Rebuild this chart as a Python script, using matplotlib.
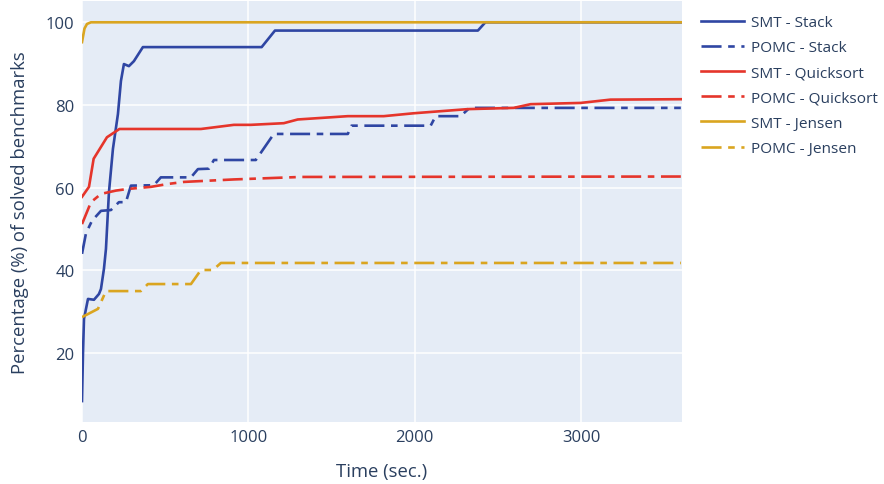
import matplotlib
matplotlib.use("Agg")
import matplotlib.pyplot as plt

# time (sec.) / percentage of solved benchmarks
smt_stack_t = [0, 6, 12, 36, 72, 102, 114, 132, 144, 162, 186, 216, 234, 252, 282, 312, 366,
               1080, 1160, 2380, 2425, 3600]
smt_stack_p = [8.4, 20, 28.3, 33.1, 32.9, 34.3, 35.5, 40.4, 45.2, 58.9, 69.4, 77.8, 85.8, 89.9,
               89.4, 90.6, 94, 94, 98, 98, 100, 100]

pomc_stack_t = [0, 24, 60, 114, 174, 222, 264, 294, 432, 474, 655, 697, 763, 793, 1045, 1153,
                1598, 1620, 2096, 2126, 2276, 2330, 3600]
pomc_stack_p = [44, 49, 52, 54.4, 54.6, 56.5, 56.5, 60.5, 60.6, 62.5, 62.5, 64.5, 64.6, 66.7,
                66.7, 73, 73, 75, 75, 77.3, 77.3, 79.3, 79.3]

smt_qs_t = [0, 42, 70, 150, 225, 715, 913, 1015, 1213, 1297, 1598, 1814, 1994, 2318, 2595, 2697,
            2997, 3177, 3600]
smt_qs_p = [57.8, 60.2, 67, 72.2, 74.2, 74.2, 75.2, 75.2, 75.6, 76.5, 77.3, 77.3, 78, 79, 79.3,
            80.2, 80.5, 81.3, 81.4]

pomc_qs_t = [0, 54, 114, 204, 276, 414, 516, 613, 913, 1315, 3600]
pomc_qs_p = [51.2, 56.5, 58.5, 59.3, 59.7, 60.2, 60.9, 61.4, 62, 62.6, 62.7]

smt_jensen_t = [0, 15, 30, 54, 3600]
smt_jensen_p = [95.2, 98.5, 99.6, 100, 100]

pomc_jensen_t = [0, 96, 144, 354, 396, 655, 715, 787, 835, 3600]
pomc_jensen_p = [28.7, 30.7, 35, 35, 36.7, 36.7, 40.1, 40.1, 41.8, 41.8]

BLUE = "#2f46a3"
RED = "#e5352b"
GOLD = "#daa520"
TEXT = "#2a3f5f"

plt.rcParams["font.family"] = ["Open Sans", "DejaVu Sans"]

fig = plt.figure(figsize=(8.84, 4.85), dpi=100)
ax = fig.add_axes([81.5 / 884, 1 - 423 / 485, (682 - 81.5) / 884, (423 - 2) / 485])
ax.set_facecolor("#e5ecf6")

lw = 1.9
dd = (7.6, 2.5, 2.5, 2.5)
kw = dict(linewidth=lw, solid_joinstyle="round", dash_joinstyle="round", dash_capstyle="butt")

ax.plot(smt_stack_t, smt_stack_p, color=BLUE, label="SMT - Stack", **kw)
ax.plot(pomc_stack_t, pomc_stack_p, color=BLUE, dashes=dd, label="POMC - Stack", **kw)
ax.plot(smt_qs_t, smt_qs_p, color=RED, label="SMT - Quicksort", **kw)
ax.plot(pomc_qs_t, pomc_qs_p, color=RED, dashes=dd, label="POMC - Quicksort", **kw)
ax.plot(smt_jensen_t, smt_jensen_p, color=GOLD, label="SMT - Jensen", **kw)
ax.plot(pomc_jensen_t, pomc_jensen_p, color=GOLD, dashes=dd, label="POMC - Jensen", **kw)

ax.set_xlim(-3, 3607)
ax.set_ylim(3.34, 105.15)
ax.set_xticks([0, 1000, 2000, 3000])
ax.set_yticks([20, 40, 60, 80, 100])
ax.grid(True, color="white", linewidth=1.1)
ax.set_axisbelow(True)
for s in ax.spines.values():
    s.set_visible(False)
ax.tick_params(length=0, labelsize=12, labelcolor=TEXT, pad=5)

ax.set_xlabel("Time (sec.)", fontsize=13.3, color=TEXT, labelpad=12)
ax.set_ylabel("Percentage (%) of solved benchmarks", fontsize=13.3, color=TEXT, labelpad=12)

leg = fig.legend(loc="upper left", bbox_to_anchor=(695 / 884, 1 - 10 / 485), frameon=False,
                 fontsize=11.1, handlelength=2.8, handletextpad=0.45, labelspacing=0.66,
                 borderaxespad=0)
for t in leg.get_texts():
    t.set_color(TEXT)

fig.savefig("out.png", dpi=100)
